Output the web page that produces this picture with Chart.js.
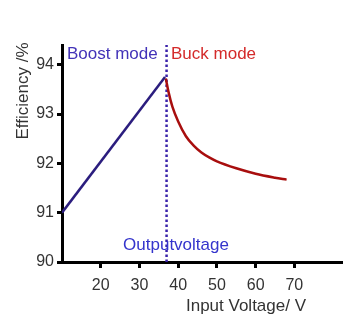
<!DOCTYPE html>
<html>
<head>
<meta charset="utf-8">
<script src="https://cdn.jsdelivr.net/npm/chart.js@4/dist/chart.umd.min.js"></script>
<style>
  html, body { margin: 0; padding: 0; background: #fff; }
  #wrap { width: 350px; height: 333px; }
</style>
</head>
<body>
<div id="wrap"><canvas id="effChart" width="350" height="333"></canvas></div>
<script>
// data
const xTicks = [20, 30, 40, 50, 60, 70];
const yTicks = [90, 91, 92, 93, 94];

const boostX = [10, 36.6];
const boostY = [91.0, 93.75];

const buckX = [36.8, 37.5, 38.5, 40, 42, 44, 46, 48, 50, 55, 60, 65, 68];
const buckY = [93.72, 93.45, 93.15, 92.85, 92.55, 92.36, 92.22, 92.12, 92.04, 91.9, 91.79, 91.71, 91.67];

const outputVoltage = 37;

const toPts = (xs, ys) => xs.map((x, i) => ({ x: x, y: ys[i] }));

const FONT = "'Liberation Sans', Arial, sans-serif";

const textPlugin = {
  id: "labels",
  afterDraw(chart) {
    const ctx = chart.ctx;
    ctx.save();
    ctx.font = "17px " + FONT;
    ctx.textBaseline = "middle";

    ctx.fillStyle = "#4232b8";
    ctx.textAlign = "left";
    ctx.fillText("Boost mode", 67, 54);

    ctx.fillStyle = "#d42a2a";
    ctx.fillText("Buck mode", 171, 54);

    ctx.fillStyle = "#3434cc";
    ctx.textAlign = "center";
    ctx.fillText("Outputvoltage", 176, 245);

    ctx.fillStyle = "#333";
    ctx.fillText("Input Voltage/ V", 246, 306);

    ctx.translate(23, 91);
    ctx.rotate(-Math.PI / 2);
    ctx.fillText("Efficiency /%", 0, 0);
    ctx.restore();
  },
};

const effChart = new Chart(document.getElementById("effChart").getContext("2d"), {
  type: "line",
  data: {
    datasets: [
      {
        label: "Boost",
        data: toPts(boostX, boostY),
        borderColor: "#2b1d7e",
        borderWidth: 2.5,
        pointRadius: 0,
      },
      {
        label: "Buck",
        data: toPts(buckX, buckY),
        borderColor: "#a80e0e",
        borderWidth: 2.5,
        pointRadius: 0,
        tension: 0.4,
        cubicInterpolationMode: "monotone",
      },
      {
        label: "Output voltage",
        data: toPts([outputVoltage, outputVoltage], [90, 94.4]),
        borderColor: "#3a22aa",
        borderWidth: 2.5,
        borderDash: [2.5, 2.5],
        pointRadius: 0,
      },
    ],
  },
  options: {
    responsive: false,
    animation: false,
    layout: { padding: { top: 45, right: 8, left: 0, bottom: 0 } },
    scales: {
      x: {
        type: "linear",
        min: 10,
        max: 82.3,
        afterBuildTicks: (scale) => {
          scale.ticks = xTicks.map((v) => ({ value: v }));
        },
        afterFit: (scale) => {
          scale.height = 71;
        },
        ticks: {
          color: "#333",
          font: { family: FONT, size: 16 },
          padding: 8,
          maxRotation: 0,
        },
        grid: {
          drawOnChartArea: false,
          drawTicks: true,
          tickLength: 6,
          tickWidth: 3,
          tickColor: "#000",
        },
        border: { color: "#000", width: 3 },
      },
      y: {
        min: 90,
        max: 94.4,
        afterBuildTicks: (scale) => {
          scale.ticks = yTicks.map((v) => ({ value: v }));
        },
        afterFit: (scale) => {
          scale.width = 62;
        },
        ticks: {
          color: "#333",
          font: { family: FONT, size: 16 },
          padding: 3,
        },
        grid: {
          drawOnChartArea: false,
          drawTicks: true,
          tickLength: 5,
          tickWidth: 3,
          tickColor: "#000",
        },
        border: { color: "#000", width: 3 },
      },
    },
    plugins: {
      legend: { display: false },
      tooltip: { enabled: false },
    },
  },
  plugins: [textPlugin],
});
</script>
</body>
</html>
